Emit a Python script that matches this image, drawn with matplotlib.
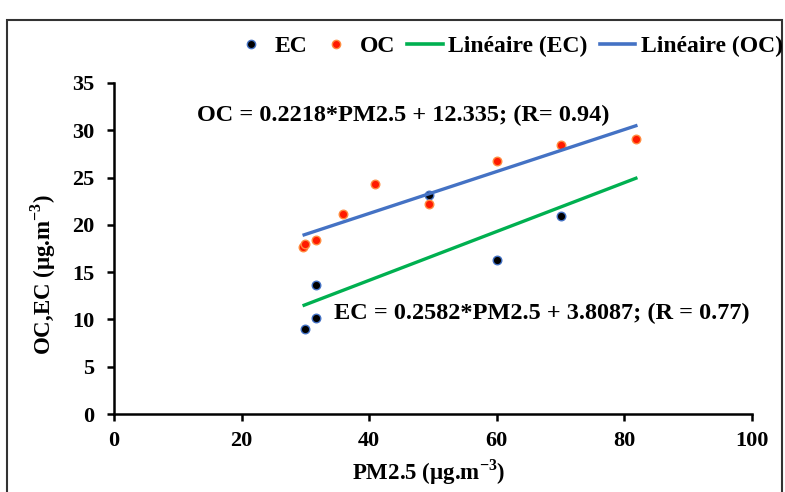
import matplotlib
matplotlib.use("Agg")
import matplotlib.pyplot as plt
import numpy as np
from matplotlib.patches import Rectangle
from matplotlib.lines import Line2D

plt.rcParams['font.family'] = ['Liberation Serif', 'DejaVu Serif']
plt.rcParams['font.weight'] = 'bold'
plt.rcParams['mathtext.fontset'] = 'custom'
plt.rcParams['mathtext.rm'] = 'Liberation Serif:bold'
plt.rcParams['mathtext.bf'] = 'Liberation Serif:bold'

# Data
ec_x = [30.0, 31.6, 31.6, 49.3, 60.1, 70.0]
ec_y = [9.0, 10.1, 13.6, 23.2, 16.3, 20.9]
oc_x = [29.7, 30.0, 31.6, 35.9, 40.9, 49.3, 60.1, 70.0, 81.8]
oc_y = [17.7, 18.0, 18.4, 21.2, 24.3, 22.2, 26.8, 28.4, 29.1]
ec_slope, ec_intercept = 0.2582, 3.8087
oc_slope, oc_intercept = 0.2218, 12.335
fit_x = [29.8, 81.8]
x_ticks = [0, 20, 40, 60, 80, 100]
y_ticks = [0, 5, 10, 15, 20, 25, 30, 35]
oc_label = "OC = 0.2218*PM2.5 + 12.335; (R= 0.94)"
ec_label = "EC = 0.2582*PM2.5 + 3.8087; (R = 0.77)"

W, H = 785, 492
fig = plt.figure(figsize=(W / 100, H / 100), dpi=100)
ax = fig.add_axes([114 / W, 1 - 414 / H, (752 - 114) / W, (414 - 83) / H])

green = '#00B050'
blue = '#4472C4'

ax.scatter(ec_x, ec_y, s=38, c='black', edgecolors=blue, linewidths=1.0, zorder=3)
ax.scatter(oc_x, oc_y, s=38, c='#FF1A00', edgecolors='#FF8C40', linewidths=1.0, zorder=4)

fx = np.array(fit_x)
ax.plot(fx, ec_slope * fx + ec_intercept, color=green, lw=2.4, zorder=5)
ax.plot(fx, oc_slope * fx + oc_intercept, color=blue, lw=2.4, zorder=5)

ax.set_xlim(0, 100)
ax.set_ylim(0, 35)
ax.set_xticks(x_ticks)
ax.set_yticks(y_ticks)
for s in ['top', 'right']:
    ax.spines[s].set_visible(False)
for s in ['left', 'bottom']:
    ax.spines[s].set_linewidth(1.8)
ax.tick_params(axis='both', direction='out', length=5, width=1.8, labelsize=16)
ax.tick_params(axis='y', pad=9)
ax.tick_params(axis='x', pad=7)
for lab in ax.get_xticklabels() + ax.get_yticklabels():
    lab.set_fontweight('bold')

fig.text(429 / W, 1 - 472 / H, r"PM2.5 (µg.m$^{-3}$)", ha='center', va='center',
         fontsize=16.5, fontweight='bold')
fig.text(43 / W, 1 - 274 / H, r"OC,EC (µg.m$^{-3}$)", ha='center', va='center',
         rotation=90, fontsize=16.5, fontweight='bold')

fig.text(403.5 / W, 1 - 115 / H, oc_label, ha='center', va='center',
         fontsize=17.5, fontweight='bold')
fig.text(541.5 / W, 1 - 313 / H, ec_label, ha='center', va='center',
         fontsize=17.5, fontweight='bold')

handles = [
    Line2D([], [], ls='none', marker='o', markersize=6, markerfacecolor='black', markeredgecolor=blue),
    Line2D([], [], ls='none', marker='o', markersize=6, markerfacecolor='#FF1A00', markeredgecolor='#FF8C40'),
    Line2D([], [], color=green, lw=2.6),
    Line2D([], [], color=blue, lw=2.6),
]
fig.legend(handles, ['EC', 'OC', 'Linéaire (EC)', 'Linéaire (OC)'], loc='center right',
           bbox_to_anchor=(783 / W, 1 - 46 / H), ncol=4, frameon=False,
           handlelength=1.5, handletextpad=0.25, columnspacing=0.5, borderaxespad=0,
           borderpad=0, prop={'weight': 'bold', 'size': 17})

fig.patches.append(Rectangle((7 / W, -0.1), (782 - 7) / W, 1 - 20 / H + 0.1,
                             transform=fig.transFigure, fill=False, edgecolor='#333333',
                             lw=1.5, zorder=0))

fig.savefig('out.png', dpi=100)
